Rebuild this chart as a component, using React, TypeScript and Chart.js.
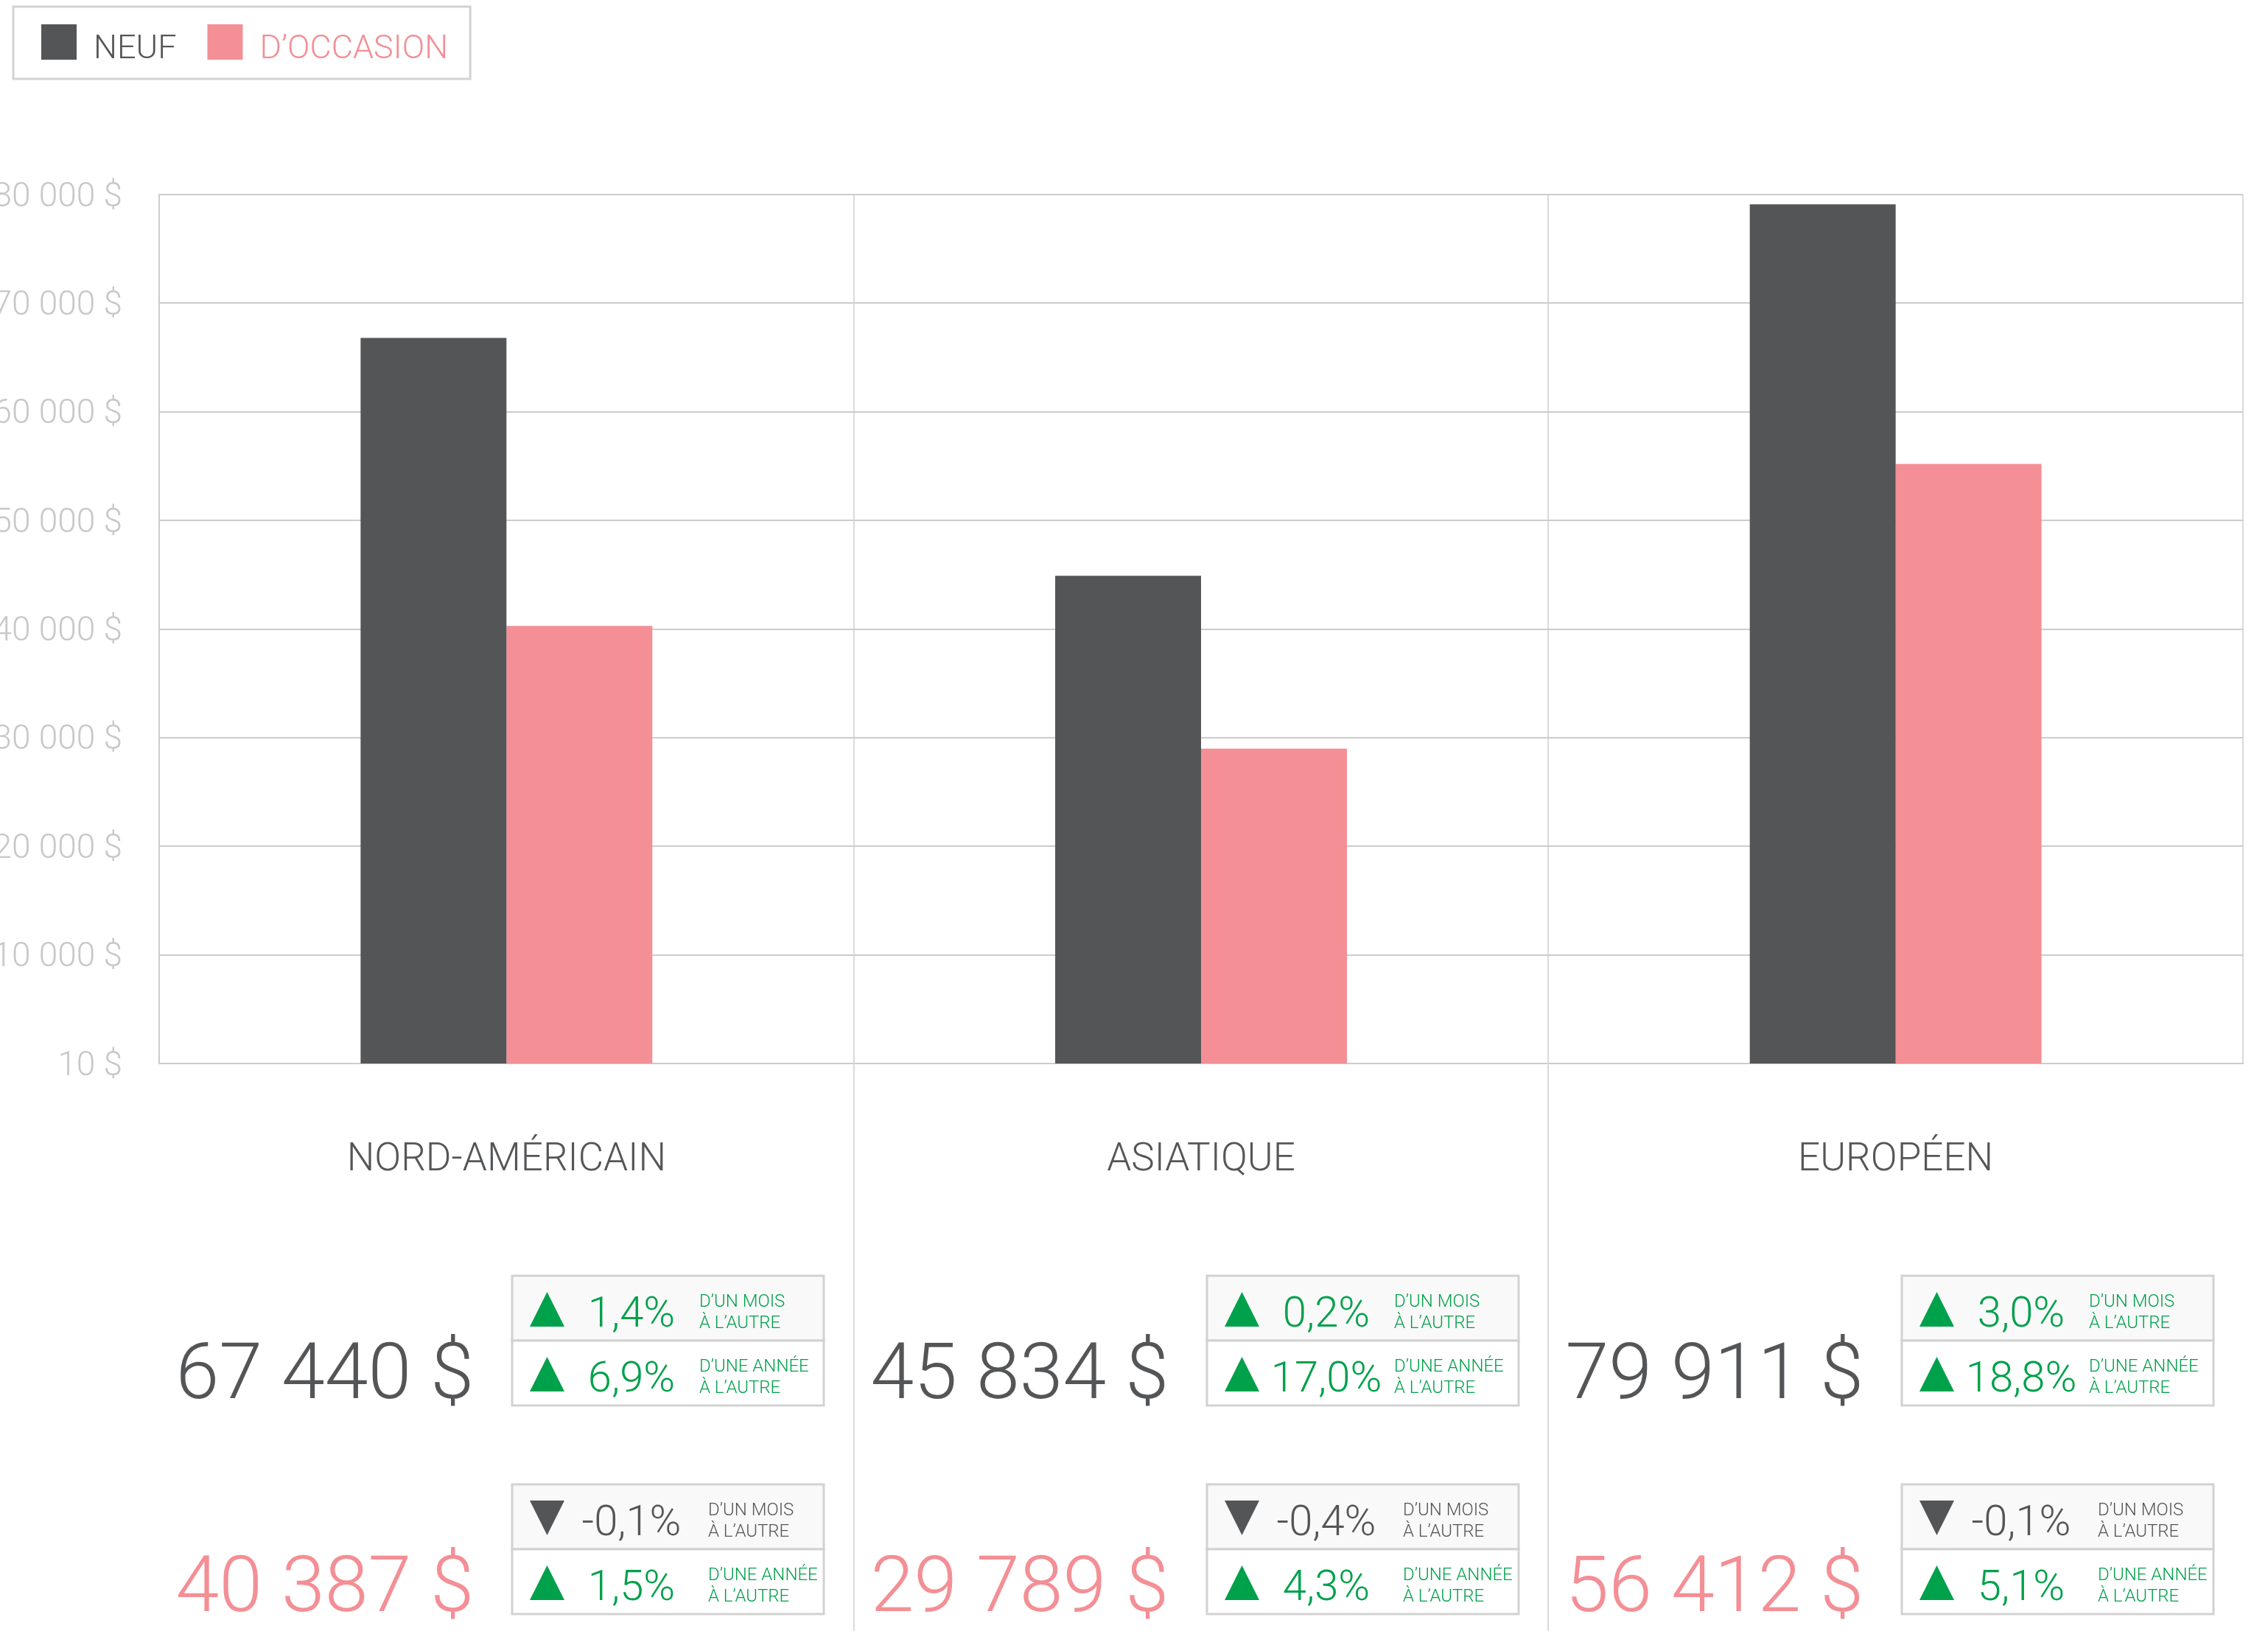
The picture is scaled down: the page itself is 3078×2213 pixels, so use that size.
import React, { useEffect, useRef } from 'react';
import { Chart, registerables } from 'chart.js';

Chart.register(...registerables);

// ---------- data ----------
const categories = ['NORD-AMÉRICAIN', 'ASIATIQUE', 'EUROPÉEN'];
const seriesNames = ['NEUF', 'D’OCCASION'];
const newBars = [66800, 44900, 79100];
const usedBars = [40300, 29000, 55200];
const newPrices = [67440, 45834, 79911];
const usedPrices = [40387, 29789, 56412];
const newMoM = [1.4, 0.2, 3.0];
const newYoY = [6.9, 17.0, 18.8];
const usedMoM = [-0.1, -0.4, -0.1];
const usedYoY = [1.5, 4.3, 5.1];
const periodLabels = [
  ['D’UN MOIS', 'À L’AUTRE'],
  ['D’UNE ANNÉE', 'À L’AUTRE'],
];
const yMin = 10;
const yStep = 10000;

// ---------- styles ----------
const W = 3078;
const H = 2213;
const FONT = 'Roboto';
const NEW_COLOR = '#545557';
const USED_COLOR = '#f38f95';
const GREEN = '#00a14b';
const DARK = '#545557';
const GRID_H = '#cccccc';
const GRID_V = '#dadada';
const BOX_BORDER = '#d2d2d2';
const f = (size: number) => `300 ${size}px ${FONT}`;

const fmtThousands = (v: number) =>
  String(Math.round(v)).replace(/\B(?=(\d{3})+(?!\d))/g, ' ');
const fmtPrice = (v: number) => `${fmtThousands(v)} $`;
const fmtPct = (v: number) => `${v.toFixed(1).replace('.', ',')}%`;

const BOX_W = 423;
const ROW_H = 88;

function drawGroup(
  ctx: CanvasRenderingContext2D,
  left: number,
  top: number,
  price: number,
  color: string,
  changes: number[],
  baseline: number,
  labelOffset: number
) {
  ctx.font = f(106);
  ctx.fillStyle = color;
  ctx.textAlign = 'right';
  ctx.textBaseline = 'alphabetic';
  ctx.fillText(fmtPrice(price), left - 52, baseline);

  const texts = changes.map(fmtPct);
  const valueCx = left + 162;
  const labelX = left + labelOffset;

  changes.forEach((v, r) => {
    const y0 = top + r * ROW_H;
    ctx.fillStyle = r === 0 ? '#f9f9f9' : '#ffffff';
    ctx.fillRect(left, y0, BOX_W, ROW_H);
    ctx.strokeStyle = BOX_BORDER;
    ctx.lineWidth = 3;
    ctx.strokeRect(left, y0, BOX_W, ROW_H);
    const cy = y0 + ROW_H / 2;
    const up = v >= 0;
    const col = up ? GREEN : DARK;
    ctx.fillStyle = col;
    ctx.beginPath();
    if (up) {
      ctx.moveTo(left + 24, cy + 25);
      ctx.lineTo(left + 71, cy + 25);
      ctx.lineTo(left + 47.5, cy - 22);
    } else {
      ctx.moveTo(left + 24, cy - 22);
      ctx.lineTo(left + 71, cy - 22);
      ctx.lineTo(left + 47.5, cy + 25);
    }
    ctx.closePath();
    ctx.fill();

    ctx.font = f(58);
    ctx.textAlign = 'center';
    ctx.textBaseline = 'alphabetic';
    ctx.fillText(texts[r], valueCx, cy + 25);

    ctx.font = f(24);
    ctx.textAlign = 'left';
    ctx.fillText(periodLabels[r][0], labelX, cy - 2);
    ctx.fillText(periodLabels[r][1], labelX, cy + 27);
  });
}

const overlayPlugin = {
  id: 'overlay',
  afterDraw(chart: any) {
    const ctx: CanvasRenderingContext2D = chart.ctx;
    const xs = chart.scales.x;
    const area = chart.chartArea;
    ctx.save();

    // column separators continuing below the axis
    ctx.strokeStyle = GRID_V;
    ctx.lineWidth = 2;
    for (let i = 1; i < categories.length; i++) {
      const bx = Math.round((xs.getPixelForValue(i - 1) + xs.getPixelForValue(i)) / 2);
      ctx.beginPath();
      ctx.moveTo(bx, area.bottom);
      ctx.lineTo(bx, chart.height);
      ctx.stroke();
    }

    // legend
    ctx.font = f(45);
    ctx.textAlign = 'left';
    ctx.textBaseline = 'alphabetic';
    let x = 56;
    const items: { x: number; label: string; color: string }[] = [];
    chart.data.datasets.forEach((ds: any) => {
      items.push({ x, label: ds.label, color: ds.backgroundColor });
      x += 71 + ctx.measureText(ds.label).width + 42;
    });
    const legendRight = x - 42 + 30;
    ctx.strokeStyle = BOX_BORDER;
    ctx.lineWidth = 3;
    ctx.strokeRect(18, 9, legendRight - 18, 98);
    items.forEach((it) => {
      ctx.fillStyle = it.color;
      ctx.fillRect(it.x, 33, 48, 48);
      ctx.fillText(it.label, it.x + 71, 79);
    });

    // stats under each category
    categories.forEach((_, i) => {
      const c = xs.getPixelForValue(i);
      const boxLeft = Math.round(c + 8);
      drawGroup(ctx, boxLeft, 1731, newPrices[i], NEW_COLOR, [newMoM[i], newYoY[i]], 1897, 254);
      drawGroup(ctx, boxLeft, 2014, usedPrices[i], USED_COLOR, [usedMoM[i], usedYoY[i]], 2186, 266);
    });

    ctx.restore();
  },
};

export default function App() {
  const ref = useRef<HTMLCanvasElement | null>(null);

  useEffect(() => {
    if (!ref.current) return;
    const chart = new Chart(ref.current, {
      type: 'bar',
      data: {
        labels: categories,
        datasets: [
          {
            label: seriesNames[0],
            data: newBars,
            backgroundColor: NEW_COLOR,
            categoryPercentage: 0.42,
            barPercentage: 1,
          },
          {
            label: seriesNames[1],
            data: usedBars,
            backgroundColor: USED_COLOR,
            categoryPercentage: 0.42,
            barPercentage: 1,
          },
        ],
      },
      options: {
        animation: false,
        responsive: false,
        devicePixelRatio: 1,
        layout: { padding: { top: 264, right: 34, left: 0, bottom: 0 } },
        plugins: {
          legend: { display: false },
          tooltip: { enabled: false },
        },
        scales: {
          x: {
            grid: { offset: true, color: GRID_V, lineWidth: 2, drawTicks: false },
            border: { color: GRID_H, width: 2 },
            ticks: {
              color: '#555658',
              font: { family: FONT, size: 53, weight: '300' as any },
              padding: 100,
            },
            afterFit: (s: any) => {
              s.height = 770;
            },
          },
          y: {
            min: yMin,
            ticks: {
              stepSize: yStep,
              color: '#c8c8c8',
              font: { family: FONT, size: 46, weight: '300' as any },
              padding: 50,
              labelOffset: 4,
              callback: (v: any) => fmtPrice(Number(v)),
            },
            grid: { color: GRID_H, lineWidth: 2, drawTicks: false },
            border: { color: GRID_H, width: 2 },
            afterFit: (s: any) => {
              s.width = 216;
            },
          },
        },
      },
      plugins: [overlayPlugin],
    });
    return () => chart.destroy();
  }, []);

  return (
    <div
      style={{
        position: 'absolute',
        left: 0,
        top: 0,
        width: W,
        height: H,
        background: '#ffffff',
        overflow: 'hidden',
      }}
    >
      <canvas ref={ref} width={W} height={H} style={{ display: 'block', width: W, height: H }} />
    </div>
  );
}
